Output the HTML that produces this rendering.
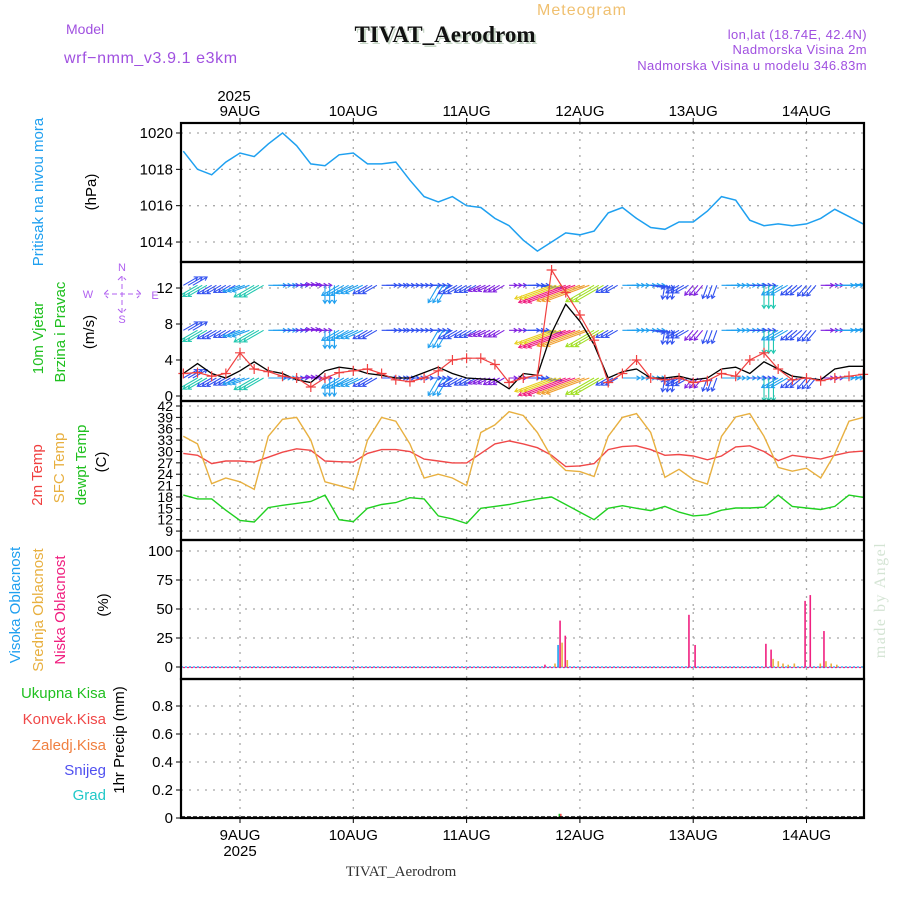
<!DOCTYPE html>
<html><head><meta charset="utf-8"><style>
html,body{margin:0;padding:0;background:#fff;}
svg{display:block;font-family:"Liberation Sans",sans-serif;}
</style></head><body>
<svg id="chart" width="900" height="900" viewBox="0 0 900 900" xmlns="http://www.w3.org/2000/svg">
<g>
<text x="582" y="15" font-size="16" fill="#f0c070" text-anchor="middle" letter-spacing="1">Meteogram</text>
<text x="447" y="44" font-size="23" font-weight="bold" font-family="Liberation Serif,serif" fill="#c8d8c8" text-anchor="middle">TIVAT_Aerodrom</text>
<text x="445" y="42" font-size="23" font-weight="bold" font-family="Liberation Serif,serif" fill="#111" text-anchor="middle">TIVAT_Aerodrom</text>
<text x="66" y="34" font-size="14" fill="#a050e0">Model</text>
<text x="64" y="63" font-size="16" fill="#a050e0" letter-spacing="0.6">wrf−nmm_v3.9.1 e3km</text>
<text x="867" y="39" font-size="13" fill="#a050e0" text-anchor="end" letter-spacing="0.4">lon,lat (18.74E, 42.4N)</text>
<text x="867" y="54" font-size="13" fill="#a050e0" text-anchor="end" letter-spacing="0.4">Nadmorska Visina 2m</text>
<text x="867" y="70" font-size="13" fill="#a050e0" text-anchor="end" letter-spacing="0.4">Nadmorska Visina u modelu 346.83m</text>
</g>
<g font-size="15">
<text transform="translate(43,192) rotate(-90)" fill="#20a0f0" text-anchor="middle">Pritisak na nivou mora</text>
<text transform="translate(96,192) rotate(-90)" fill="#000" text-anchor="middle">(hPa)</text>
<text transform="translate(43,338) rotate(-90)" fill="#20c020" text-anchor="middle">10m Vjetar</text>
<text transform="translate(65,332) rotate(-90)" fill="#20c020" text-anchor="middle">Brzina i Pravac</text>
<text transform="translate(94,332) rotate(-90)" fill="#000" text-anchor="middle">(m/s)</text>
<text transform="translate(42,475) rotate(-90)" fill="#f04040" text-anchor="middle">2m Temp</text>
<text transform="translate(64,468) rotate(-90)" fill="#e8b040" text-anchor="middle">SFC Temp</text>
<text transform="translate(86,465) rotate(-90)" fill="#20c020" text-anchor="middle">dewpt Temp</text>
<text transform="translate(106,462) rotate(-90)" fill="#000" text-anchor="middle">(C)</text>
<text transform="translate(20,605) rotate(-90)" fill="#20a0f0" text-anchor="middle">Visoka Oblacnost</text>
<text transform="translate(43,610) rotate(-90)" fill="#e8b040" text-anchor="middle">Srednja Oblacnost</text>
<text transform="translate(65,610) rotate(-90)" fill="#f02080" text-anchor="middle">Niska Oblacnost</text>
<text transform="translate(108,605) rotate(-90)" fill="#000" text-anchor="middle">(%)</text>
<text x="106" y="698" fill="#20c020" text-anchor="end">Ukupna Kisa</text>
<text x="106" y="724" fill="#f04848" text-anchor="end">Konvek.Kisa</text>
<text x="106" y="750" fill="#f08040" text-anchor="end">Zaledj.Kisa</text>
<text x="106" y="775" fill="#5050f0" text-anchor="end">Snijeg</text>
<text x="106" y="800" fill="#20c8c8" text-anchor="end">Grad</text>
<text transform="translate(124,740) rotate(-90)" fill="#000" text-anchor="middle">1hr Precip (mm)</text>
<text transform="translate(885,600) rotate(-90)" fill="#d4e4d4" font-family="Liberation Serif,serif" font-size="16" text-anchor="middle" letter-spacing="1.5">made by Angel</text>
</g>
<g fill="#b060f0" stroke="none" font-size="11">
<text x="122" y="271" text-anchor="middle">N</text>
<text x="88" y="298" text-anchor="middle">W</text>
<text x="155" y="299" text-anchor="middle">E</text>
<text x="122" y="323" text-anchor="middle">S</text>
<path d="M104 294 H141 M122 276 V313 M108 290 L104 294 L108 298 M137 290 L141 294 L137 298 M118 280 L122 276 L126 280 M118 309 L122 313 L126 309" stroke="#b060f0" stroke-width="1" fill="none" stroke-dasharray="5,3"/>
</g>
<g id="plot"></g>
<text x="401" y="876" font-size="15" font-family="Liberation Serif,serif" fill="#333" text-anchor="middle">TIVAT_Aerodrom</text>
</svg>
<script>
// time axis: 3-hourly steps starting at 8AUG 12Z (hours relative to 9AUG 00Z)
const startHour = -12;
const stepHours = 3;
const dayLabels = ["9AUG","10AUG","11AUG","12AUG","13AUG","14AUG"];
const pressure = [1019.0,1018.0,1017.7,1018.4,1018.9,1018.7,1019.4,1020.0,1019.3,1018.3,1018.2,1018.8,1018.9,1018.3,1018.3,1018.4,1017.4,1016.5,1016.2,1016.5,1016.0,1015.9,1015.3,1014.9,1014.1,1013.5,1014.0,1014.5,1014.4,1014.6,1015.6,1015.9,1015.3,1014.8,1014.7,1015.1,1015.1,1015.7,1016.5,1016.3,1015.2,1014.9,1015.0,1014.9,1015.0,1015.3,1015.8,1015.4,1015.0];
const windSpeed = [2.5,3.6,2.5,2.0,2.8,3.8,2.8,2.5,1.8,1.5,2.8,3.2,3.0,2.5,2.3,2.0,2.0,2.6,3.2,2.5,2.0,1.9,1.8,0.8,2.5,2.3,7.0,10.2,8.3,5.7,2.0,2.7,3.0,2.0,2.0,2.2,1.8,2.0,3.0,3.2,2.5,3.8,3.0,2.2,2.0,1.8,3.0,3.3,3.3];
const windGust = [2.5,2.6,2.2,2.5,4.8,3.0,2.7,2.2,2.0,1.0,2.0,2.6,2.8,3.0,2.5,1.8,1.6,2.0,2.8,4.0,4.2,4.2,3.5,1.5,2.0,2.3,14.0,11.5,9.0,6.2,1.5,2.5,4.0,2.0,1.8,2.0,1.5,1.7,2.5,2.2,4.0,4.8,3.0,1.8,2.0,1.7,2.0,2.2,2.4];
const windDir = [-30,150,150,150,160,150,0,0,-5,0,90,150,155,150,0,0,0,0,120,150,150,155,150,0,0,10,160,160,160,150,150,0,0,10,100,150,130,110,0,0,0,90,150,140,130,0,0,-5,0];
const windRowLevels = [12.3,7.3,2.0];
const temp2m = [29.5,29.0,26.8,27.5,27.5,27.2,28.5,29.8,30.7,30.3,27.5,27.3,27.2,29.5,30.5,30.5,30.0,28.0,27.5,27.0,27.0,29.5,32.0,32.8,32.0,31.0,29.0,26.0,26.2,26.8,30.5,31.3,31.5,30.5,29.0,29.2,28.8,27.8,28.8,31.2,31.5,30.0,27.6,29.0,28.5,28.0,29.0,29.8,30.1];
const tempSfc = [34,32,21.5,23,22,20,34,38.5,39,33,22,21,20,33,39,38,32,23,24,23,21,35,37,40.5,39.5,35,28.5,25,24.7,23.4,34,39,40,35,23.2,25.3,22.6,21.4,34,39.1,40,34,25.8,24.8,25.6,23,29.4,38,39];
const dewpt = [18.5,17.5,17.5,14.5,11.8,11.4,15.2,15.8,16.3,16.8,18.5,12,11.5,15,16,16.5,17.8,17.5,13,12.2,11,15,15.5,16,16.8,17.5,18,16,14,12,15,15.7,15,14.4,15.5,14,13,13.3,14.5,15.1,15.1,15.3,18.5,15.5,15.1,14.7,15.5,18.5,17.9];
const cloudHours = [64.6,66.3,67.8,68.9,95.1,96.4,111.4,112.5,113.6,114.6,115.7,117,119.7,120.8,122.5,123.7,124.8,126];
const cloudHigh = [0,0,19,0,0,0,0,0,0,0,0,0,0,0,0,0,0,0];
const cloudMid = [0,3,21,6,0,0,0,7,5,3,2,3,0,0,3,5,3,2];
const cloudLow = [2,0,40,27,45,19,20,15,0,0,0,0,57,62,0,31,0,0];
const precipHours = [67.8];
const precipTotal = [0.03];
const precipConv = [0.03];
const pTicks = [1014,1016,1018,1020];
const wTicks = [0,4,8,12];
const tTicks = [9,12,15,18,21,24,27,30,33,36,39,42];
const cTicks = [0,25,50,75,100];
const rTicks = [0,0.2,0.4,0.6,0.8];

const NS="http://www.w3.org/2000/svg";
const L=181, R=864;
const x = h => 240 + (h)*113.3/24;
const xi = i => x(startHour + i*stepHours);
const panels = [[123,262],[262,401],[401,540],[540,679],[679,818]];
const yP = v => 133 + (1020-v)*18.17;
const yW = v => 396 - v*9;
const yT = v => 406 + (42-v)*3.79;
const yC = v => 667 - v*1.16;
const yR = v => 818 - v*140;
const plot = document.getElementById('plot');
function el(tag, attrs, parent){const e=document.createElementNS(NS,tag);for(const k in attrs)e.setAttribute(k,attrs[k]);(parent||plot).appendChild(e);return e;}
const clipDefs = el('defs',{});
panels.forEach((p,k)=>{const c=el('clipPath',{id:'cp'+k},clipDefs);el('rect',{x:L,y:p[0],width:R-L,height:p[1]-p[0]},c);});

const grid = el('g',{stroke:'#a8a8a8','stroke-width':'1.3','stroke-dasharray':'2,6'});


panels.forEach(p=>{dayLabels.forEach((d,k)=>{const gx=x(k*24);el('line',{x1:gx,x2:gx,y1:p[0],y2:p[1]},grid);});});
function hgrid(ticks, f, labels){
  ticks.forEach(t=>{
    el('line',{x1:L,x2:R,y1:f(t),y2:f(t)},grid);
    el('line',{x1:L-5,x2:L,y1:f(t),y2:f(t),stroke:'#000','stroke-width':1});
    const tx=el('text',{x:L-8,y:f(t)+5,'font-size':(labels||15),'text-anchor':'end',fill:'#000'});
    tx.textContent=t;
    
    
  });
}
hgrid(pTicks,yP);hgrid(wTicks,yW);hgrid(tTicks,yT,14);hgrid(cTicks,yC);hgrid(rTicks,yR);

function line(arr, f, color, name, clip, w){
  const d=arr.map((v,i)=>(i?'L':'M')+xi(i).toFixed(1)+' '+f(v).toFixed(1)).join(' ');
  const p=el('path',{d:d,fill:'none',stroke:color,'stroke-width':w||1.4,'clip-path':'url(#cp'+clip+')'});
  
  
  return p;
}
line(pressure,yP,'#1ea0f0','pressure-line',0,1.5);

function spdColor(s){
  if(s<2)return '#8020e0'; if(s<2.7)return '#3050f0'; if(s<3.5)return '#20a0f0'; if(s<4.5)return '#20c8b0';
  if(s<5.5)return '#20d040'; if(s<6.5)return '#a0e020'; if(s<7.5)return '#e8d020'; if(s<8.5)return '#f0a030';
  if(s<9.5)return '#f06040'; return '#f02080';
}
const arrows = el('g',{'clip-path':'url(#cp1)','stroke-width':1.1,fill:'none'});


windRowLevels.forEach(lv=>{
  windSpeed.forEach((s,i)=>{
    for(let k=0;k<3;k++){
      const x0=xi(i)+k*4.72, y0=yW(lv);
      const a=windDir[i]*Math.PI/180, len=Math.min(50,4+5*s);
      const x1=x0+Math.cos(a)*len, y1=y0+Math.sin(a)*len;
      const h=4, a1=a+Math.PI*0.82, a2=a-Math.PI*0.82;
      const ar=el('path',{d:`M${x0} ${y0} L${x1} ${y1} M${x1+Math.cos(a1)*h} ${y1+Math.sin(a1)*h} L${x1} ${y1} L${x1+Math.cos(a2)*h} ${y1+Math.sin(a2)*h}`,stroke:spdColor(s)},arrows);
      
      
    }
  });
});
line(windSpeed,yW,'#000','wind-speed-line',1,1.3);
line(windGust,yW,'#f04040','wind-gust-line',1,1.2);
const gm=el('g',{stroke:'#f04040','stroke-width':1.2});


windGust.forEach((v,i)=>{const cx=xi(i),cy=yW(v);
  const m=el('path',{d:`M${cx-5} ${cy} H${cx+5} M${cx} ${cy-5} V${cy+5}`},gm);
  
  
});

line(temp2m,yT,'#f04848','temp-2m-line',2,1.4);
line(tempSfc,yT,'#e8b040','sfc-temp-line',2,1.4);
line(dewpt,yT,'#20d020','dewpt-line',2,1.4);

const cz=el('g',{'stroke-width':1.2,'stroke-dasharray':'2,2'});


el('line',{x1:L,x2:R,y1:yC(0),y2:yC(0),stroke:'#20a0f0'},cz);
el('line',{x1:L+2,x2:R,y1:yC(0)+0.5,y2:yC(0)+0.5,stroke:'#f02080'},cz);
cloudHours.forEach((h,i)=>{
  [[cloudHigh,'#20a0f0',-2,'high-cloud-bar'],[cloudMid,'#e8b040',2,'mid-cloud-bar'],[cloudLow,'#f02080',0,'low-cloud-bar']].forEach(s=>{
    const v=s[0][i]; if(!v)return;
    const b=el('rect',{x:x(h)+s[2]-0.8,y:yC(v),width:1.6,height:yC(0)-yC(v),fill:s[1]});
    
    
  });
});
precipHours.forEach((h,i)=>{
  const b=el('rect',{x:x(h)-1.5,y:yR(precipTotal[i]),width:1.5,height:yR(0)-yR(precipTotal[i]),fill:'#20c020'});
  
  
  const c=el('rect',{x:x(h),y:yR(precipConv[i]),width:1.5,height:yR(0)-yR(precipConv[i]),fill:'#f04848'});
  
  
});
const pz=el('line',{x1:L,x2:R,y1:817,y2:817,stroke:'#000','stroke-width':1.5,'stroke-dasharray':'4,2'});



panels.forEach(p=>{
  const r=el('rect',{x:L,y:p[0],width:R-L,height:p[1]-p[0],fill:'none',stroke:'#000','stroke-width':2.2});
  
  
});
dayLabels.forEach((d,k)=>{
  const gx=x(k*24);
  el('line',{x1:gx,x2:gx,y1:118,y2:123,stroke:'#000'});
  el('line',{x1:gx,x2:gx,y1:818,y2:823,stroke:'#000'});
  const t1=el('text',{x:gx,y:116,'font-size':15,'text-anchor':'middle'});t1.textContent=d;
  
  
  const t2=el('text',{x:gx,y:840,'font-size':15,'text-anchor':'middle'});t2.textContent=d;
  
  
});
const y1=el('text',{x:x(0)-6,y:101,'font-size':15,'text-anchor':'middle'});y1.textContent='2025';


const y2=el('text',{x:x(0),y:856,'font-size':15,'text-anchor':'middle'});y2.textContent='2025';


</script>
</body></html>
